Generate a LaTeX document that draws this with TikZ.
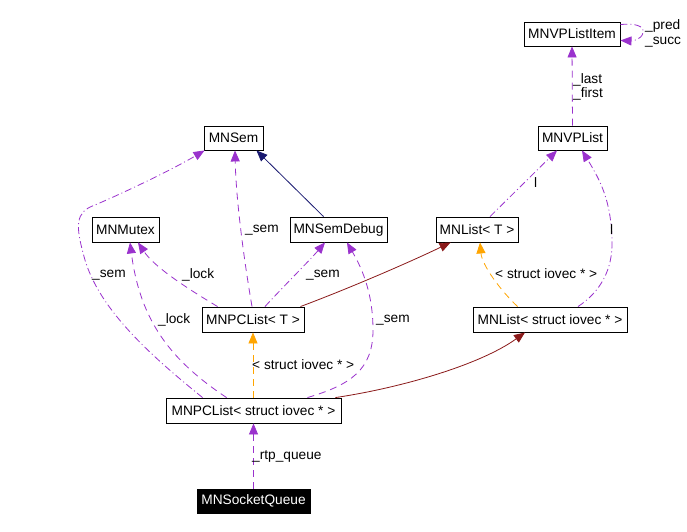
\documentclass[tikz,border=0pt]{standalone}
\usepackage{fontspec}
\setmainfont{Liberation Sans}
\usetikzlibrary{arrows.meta}
\definecolor{usecol}{HTML}{9A32CD}
\definecolor{tmplcol}{HTML}{FFA500}
\definecolor{inhcol}{HTML}{8B1A1A}
\definecolor{pubcol}{HTML}{191970}
\begin{document}
\begin{tikzpicture}[x=1pt,y=-1pt,
  every node/.style={font=\fontsize{13.7}{15}\selectfont},
  cls/.style={draw=black,line width=0.9pt,fill=white,inner sep=0pt,anchor=center},
  lbl/.style={anchor=west,inner sep=0pt,text=black},
  tip/.style={-{Triangle[length=11pt,width=9pt]}},
  usedash/.style={tip,usecol,line width=0.8pt,dash pattern=on 7pt off 5pt},
  usedot/.style={tip,usecol,line width=0.8pt,dash pattern=on 7pt off 3pt on 1pt off 3pt},
  tmpl/.style={tip,tmplcol,line width=0.8pt,dash pattern=on 7pt off 5pt},
  inh/.style={tip,inhcol,line width=0.8pt},
  pub/.style={tip,pubcol,line width=0.8pt}]
\useasboundingbox (0,0) rectangle (687,531);
\fill[white] (0,0) rectangle (687,531);
% nodes
\node[cls,minimum width=96pt,minimum height=24pt] (item) at (572,34) {MNVPListItem};
\node[cls,minimum width=69pt,minimum height=24pt] (vplist) at (572.5,138) {MNVPList};
\node[cls,minimum width=59pt,minimum height=24pt] (sem) at (233.5,138) {MNSem};
\node[cls,minimum width=67pt,minimum height=25pt] (mutex) at (125.5,229.5) {MNMutex};
\node[cls,minimum width=97pt,minimum height=25pt] (semdbg) at (338.5,229.5) {MNSemDebug};
\node[cls,minimum width=102pt,minimum height=25pt] (pclT) at (253,319.5) {MNPCList< T >};
\node[cls,minimum width=82pt,minimum height=25pt] (listT) at (477,229.5) {MNList< T >};
\node[cls,minimum width=154pt,minimum height=25pt] (listIov) at (550,319.5) {MNList< struct iovec * >};
\node[cls,minimum width=175pt,minimum height=25pt] (pclIov) at (253.5,410.5) {MNPCList< struct iovec * >};
\node[cls,fill=black,text=white,minimum width=113pt,minimum height=24pt] (sock) at (253.5,501) {MNSocketQueue};
% edges
\draw[usedot] ([yshift=-3pt]item.north east) .. controls (635,23) and (645,26) .. (643,33) .. controls (641,40) and (632,41) .. ([yshift=6pt]item.south east);
\node[lbl] (lpred) at (645,26) {\_pred};
\node[lbl] (lsucc) at (645,42) {\_succ};
\draw[usedash] (vplist.north) -- (item.south);
\node[lbl] (llast) at (573,80) {\_last};
\node[lbl] (lfirst) at (573,94) {\_first};
\draw[pub] ([xshift=-15pt]semdbg.north) -- ([xshift=-7pt]sem.south east);
\draw[usedash] ([xshift=-1pt]pclT.north) .. controls (244,260) and (236,200) .. ([xshift=1.5pt]sem.south);
\node[lbl] (lsem1) at (245,230) {\_sem};
\draw[usedash] ([xshift=16pt]pclT.north west) .. controls (190,290) and (155,268) .. ([xshift=12.5pt]mutex.south);
\node[lbl] (llock1) at (182,275) {\_lock};
\draw[usedot] ([xshift=12pt]pclT.north) .. controls (280,290) and (310,260) .. ([xshift=-13.5pt]semdbg.south);
\node[lbl] (lsem2) at (306,275) {\_sem};
\draw[inh] ([xshift=-4pt]pclT.north east) .. controls (350,288) and (410,262) .. ([xshift=15pt]listT.south west);
\draw[tmpl] ([xshift=45pt]listIov.north west) .. controls (500,290) and (482,265) .. ([xshift=3pt]listT.south);
\node[lbl] (ltmpl1) at (495,274) {< struct iovec * >};
\draw[usedot] ([xshift=28pt]listIov.north) .. controls (600,292) and (613,270) .. (612,240) .. controls (611,200) and (600,180) .. ([xshift=9.5pt]vplist.south);
\node[lbl] (ll1) at (610,230) {l};
\draw[usedot] ([xshift=13pt]listT.north) -- ([xshift=-15.5pt]vplist.south);
\node[lbl] (ll2) at (534,183) {l};
\draw[tmpl] ([xshift=-0.5pt]pclIov.north) -- (pclT.south);
\node[lbl] (ltmpl2) at (252,365) {< struct iovec * >};
\draw[inh] ([xshift=-6pt]pclIov.north east) .. controls (400,388) and (480,365) .. ([xshift=-25pt]listIov.south);
\draw[usedot] ([xshift=37pt]pclIov.north west) .. controls (150,355) and (100,310) .. (85,260) .. controls (75,225) and (75,212) .. (95,205) .. controls (130,190) and (175,168) .. ([xshift=1pt]sem.south west);
\node[lbl] (lsem3) at (92,275) {\_sem};
\draw[usedash] ([xshift=61pt]pclIov.north west) .. controls (170,360) and (140,320) .. ([xshift=4.5pt]mutex.south);
\node[lbl] (llock2) at (158,320) {\_lock};
\draw[usedash] ([xshift=-34pt]pclIov.north east) .. controls (350,385) and (373,370) .. (373,330) .. controls (373,290) and (360,265) .. ([xshift=8.5pt]semdbg.south);
\node[lbl] (lsem4) at (376,320) {\_sem};
\draw[usedash] (sock.north) -- (pclIov.south);
\node[lbl] (lrtp) at (252,456) {\_rtp\_queue};
\end{tikzpicture}
\end{document}
